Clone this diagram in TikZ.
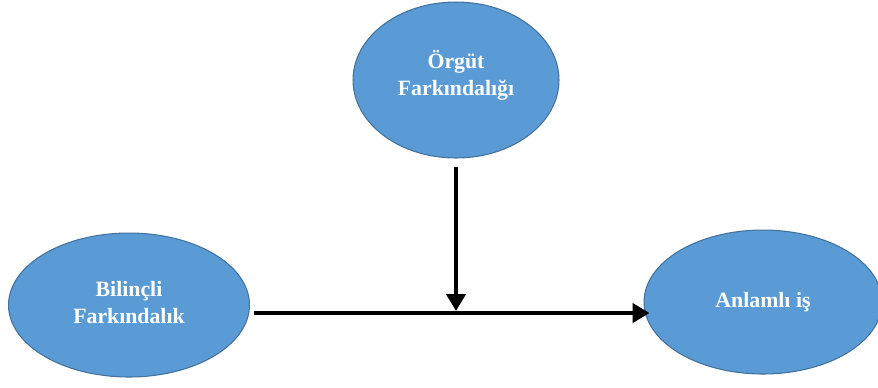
\documentclass[tikz,border=0pt]{standalone}
\usepackage{fontspec}
\setmainfont{Liberation Serif}
\usetikzlibrary{arrows.meta,positioning,shapes.geometric}
\definecolor{ovblue}{HTML}{5B9BD5}
\definecolor{ovedge}{HTML}{41719C}

\begin{document}
\begin{tikzpicture}[x=0.02cm, y=-0.02cm,
  oval/.style={ellipse, draw=ovedge, fill=ovblue, line width=0.6pt,
               inner sep=0pt, align=center, text=white,
               font=\fontsize{12.4}{15.4}\selectfont\bfseries},
  flow/.style={-{Triangle[length=3.4mm, width=3.8mm]}, line width=2.5pt, black},
]
\useasboundingbox (0,0) rectangle (878,387);

%% ---- kavramlar ----
\node[oval, minimum width=4.12cm, minimum height=3.12cm] (orgut) at (456,80)
  {Örgüt\\Farkındalığı\rule[-8pt]{0pt}{8pt}};
\node[oval, minimum width=4.82cm, minimum height=2.88cm] (bilinc) at (129,305)
  {Bilinçli\\Farkındalık\rule[-3pt]{0pt}{3pt}};
\node[oval, minimum width=4.76cm, minimum height=2.88cm] (anlam) at (763,302)
  {Anlamlı iş};

%% ---- oklar ----
% ana yol: bilinçli farkındalık -> anlamlı iş
\coordinate (bas) at ([shift={(4,8)}]bilinc.east);
\coordinate (son) at ([shift={(6,11)}]anlam.west);
\draw[flow] (bas) -- (son);

% düzenleyici: örgüt farkındalığı ana yola iner
\coordinate (kesisim) at (orgut.south |- 0,311);
\draw[flow] ([yshift=-5]orgut.south) -- (kesisim);

\end{tikzpicture}
\end{document}
